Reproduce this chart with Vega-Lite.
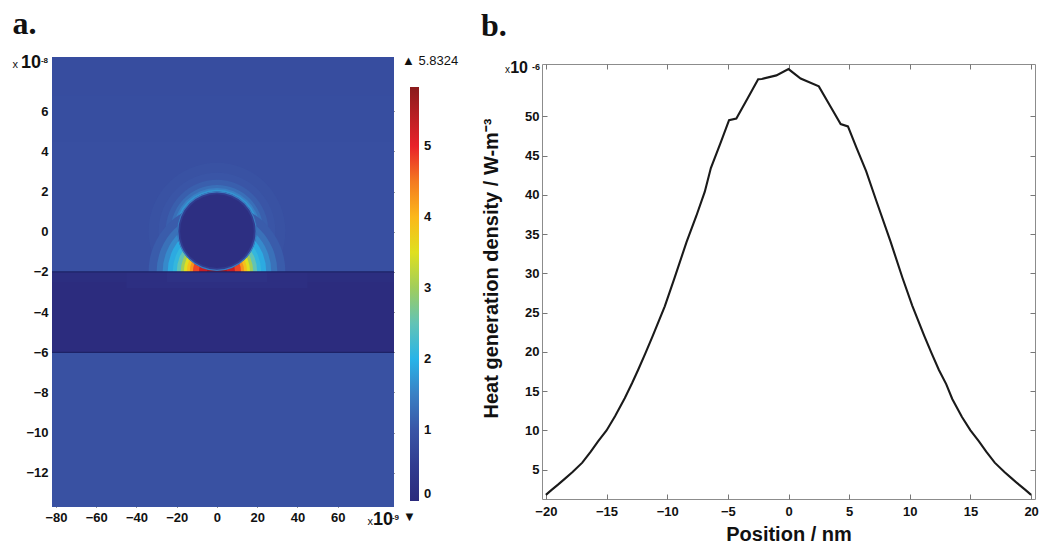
{
  "$schema": "https://vega.github.io/schema/vega-lite/v6.json",
  "background": "white",
  "padding": {"left": 12, "top": 8, "right": 0, "bottom": 0},
  "columns": 2,
  "align": "none",
  "spacing": 21,
  "resolve": {"scale": {"color": "independent"}},
  "config": {
    "font": "Liberation Sans",
    "axis": {"labelFont": "Liberation Sans", "titleFont": "Liberation Sans"},
    "legend": {"labelFont": "Liberation Sans"},
    "view": {"stroke": null}
  },
  "concat": [
    {
      "width": 342,
      "height": 443,
      "title": {"text": "a.", "anchor": "start", "font": "Liberation Serif", "fontSize": 32, "fontWeight": "bold", "color": "#111", "offset": 13},
      "view": {"stroke": null},
      "resolve": {"axis": {"x": "independent", "y": "independent"}},
      "layer": [
        {
          "data": {"values": [
            {"x": -82, "x2": 88, "y": -2, "y2": 8.7, "v": 0.88},
            {"x": -82, "x2": 88, "y": 4.5, "y2": 8.7, "v": 0.86},
            {"x": -82, "x2": 88, "y": 6.8, "y2": 8.7, "v": 0.83},
            {"x": -82, "x2": 88, "y": -13.7, "y2": -6, "v": 0.92}
          ]},
          "mark": {"type": "rect"},
          "encoding": {
            "x": {"field": "x", "type": "quantitative", "scale": {"domain": [-82, 88], "nice": false, "zero": false},
              "axis": {"values": [-80, -60, -40, -20, 0, 20, 40, 60], "title": null, "domain": false, "grid": false, "tickSize": -4, "tickColor": "#333", "labelFontSize": 13, "labelFontWeight": "bold", "labelColor": "#111", "labelPadding": 8}},
            "x2": {"field": "x2"},
            "y": {"field": "y", "type": "quantitative", "scale": {"domain": [-13.7, 8.7], "nice": false, "zero": false, "range": [443, -7]},
              "axis": {"values": [-12, -10, -8, -6, -4, -2, 0, 2, 4, 6], "title": null, "domain": false, "grid": false, "tickSize": -4, "tickColor": "#333", "labelFontSize": 13, "labelFontWeight": "bold", "labelColor": "#111", "labelPadding": 8}},
            "y2": {"field": "y2"},
            "color": {"field": "v", "type": "quantitative",
              "scale": {"type": "linear", "interpolate": "rgb",
                "domain": [0, 0.5, 1, 1.5, 2, 2.5, 3, 3.5, 4, 4.5, 5, 5.8324],
                "range": ["#2b2a7c", "#313c90", "#3a55a6", "#3a80c4", "#28b4e8", "#62c3b6", "#a0cd5c", "#dfe01f", "#fbb81a", "#f47a20", "#e9222a", "#8a1b1c"]},
              "legend": {"orient": "none", "legendX": 358, "legendY": 23, "direction": "vertical", "gradientLength": 414, "gradientThickness": 9, "gradientStrokeWidth": 0, "values": [0, 1, 2, 3, 4, 5], "title": null, "labelFontSize": 13, "labelFontWeight": "bold", "labelColor": "#111", "labelOverlap": false, "padding": 0, "labelOffset": 5}}
          }
        },
        {
          "data": {"values": [
            {"cx": 0, "cy": 0.03, "r1": 19.7, "r2": 34, "t1": 0, "t2": 360, "v": 0.93},
            {"cx": 0, "cy": 0.03, "r1": 19.7, "r2": 29, "t1": 0, "t2": 360, "v": 1.0},
            {"cx": 0, "cy": 0.03, "r1": 19.7, "r2": 25.5, "t1": 0, "t2": 360, "v": 1.12},
            {"cx": 0, "cy": 0.03, "r1": 19.7, "r2": 23, "t1": 0, "t2": 360, "v": 1.3},
            {"cx": 0, "cy": 0.03, "r1": 19.7, "r2": 21.5, "t1": 0, "t2": 360, "v": 1.5},
            {"cx": 0, "cy": 0.03, "r1": 19.7, "r2": 20.6, "t1": 0, "t2": 360, "v": 1.7},
            {"cx": 0, "cy": -2, "r1": 0, "r2": 34, "t1": -90, "t2": 90, "v": 1.08},
            {"cx": 0, "cy": -2, "r1": 0, "r2": 30, "t1": -90, "t2": 90, "v": 1.32},
            {"cx": 0, "cy": -2, "r1": 0, "r2": 27, "t1": -90, "t2": 90, "v": 1.6},
            {"cx": 0, "cy": -2, "r1": 0, "r2": 24.5, "t1": -90, "t2": 90, "v": 1.9},
            {"cx": 0, "cy": -2, "r1": 0, "r2": 22, "t1": -90, "t2": 90, "v": 2.1},
            {"cx": 0, "cy": -2, "r1": 0, "r2": 20, "t1": -90, "t2": 90, "v": 2.5},
            {"cx": 0, "cy": -2, "r1": 0, "r2": 18, "t1": -90, "t2": 90, "v": 3.0},
            {"cx": 0, "cy": -2, "r1": 0, "r2": 16.5, "t1": -90, "t2": 90, "v": 3.5},
            {"cx": 0, "cy": -2, "r1": 0, "r2": 15, "t1": -90, "t2": 90, "v": 3.9},
            {"cx": 0, "cy": -2, "r1": 0, "r2": 13.5, "t1": -90, "t2": 90, "v": 4.3},
            {"cx": 0, "cy": -2, "r1": 0, "r2": 12, "t1": -90, "t2": 90, "v": 4.8},
            {"cx": 0, "cy": -2, "r1": 0, "r2": 9, "t1": -90, "t2": 90, "v": 5.3},
            {"cx": 0, "cy": -2, "r1": 0, "r2": 5, "t1": -90, "t2": 90, "v": 5.6}
          ]},
          "mark": {"type": "arc"},
          "encoding": {
            "x": {"field": "cx", "type": "quantitative", "axis": null},
            "y": {"field": "cy", "type": "quantitative", "axis": null},
            "radius": {"field": "r1", "type": "quantitative", "scale": {"type": "linear", "domain": [0, 100], "range": [0, 201.2], "zero": true}},
            "radius2": {"field": "r2"},
            "theta": {"field": "t1", "type": "quantitative", "stack": null, "scale": {"domain": [0, 360], "range": [0, 6.283185307]}},
            "theta2": {"field": "t2"},
            "color": {"field": "v", "type": "quantitative"}
          }
        },
        {
          "data": {"values": [
            {"x": -82, "x2": 88, "y": -6, "y2": -2, "v": 0.05},
            {"x": -82, "x2": 88, "y": -2.5, "y2": -2, "v": 0.1},
            {"x": -45, "x2": 45, "y": -2.8, "y2": -2, "v": 0.15},
            {"x": -25, "x2": 25, "y": -2.5, "y2": -2, "v": 0.22}
          ]},
          "mark": {"type": "rect"},
          "encoding": {
            "x": {"field": "x", "type": "quantitative", "axis": null},
            "x2": {"field": "x2"},
            "y": {"field": "y", "type": "quantitative", "axis": null},
            "y2": {"field": "y2"},
            "color": {"field": "v", "type": "quantitative"}
          }
        },
        {
          "data": {"values": [
            {"cx": 0, "cy": 0.03, "r1": 0, "r2": 19.7, "t1": 0, "t2": 360, "v": 0.5},
            {"cx": 0, "cy": 0.03, "r1": 0, "r2": 18.3, "t1": 0, "t2": 360, "v": 0.15},
            {"cx": 0, "cy": 0.03, "r1": 19.2, "r2": 19.8, "t1": 0, "t2": 360, "v": 1.45}
          ]},
          "mark": {"type": "arc"},
          "encoding": {
            "x": {"field": "cx", "type": "quantitative", "axis": null},
            "y": {"field": "cy", "type": "quantitative", "axis": null},
            "radius": {"field": "r1", "type": "quantitative"},
            "radius2": {"field": "r2"},
            "theta": {"field": "t1", "type": "quantitative", "stack": null},
            "theta2": {"field": "t2"},
            "color": {"field": "v", "type": "quantitative"}
          }
        },
        {
          "data": {"values": [{"y": -2}, {"y": -6}]},
          "mark": {"type": "rule", "color": "#1d2266", "strokeWidth": 1.2},
          "encoding": {"y": {"field": "y", "type": "quantitative", "axis": null}}
        },
        {
          "data": {"values": [{"x": 0, "y": 0}]},
          "mark": {"type": "point", "opacity": 0},
          "encoding": {
            "x": {"field": "x", "type": "quantitative", "axis": {"orient": "top", "offset": 7, "values": [-80, -60, -40, -20, 0, 20, 40, 60, 80], "labels": false, "domain": false, "grid": false, "title": null, "tickSize": -4, "tickColor": "#333"}},
            "y": {"field": "y", "type": "quantitative", "axis": {"orient": "right", "values": [-12, -10, -8, -6, -4, -2, 0, 2, 4, 6], "labels": false, "domain": false, "grid": false, "title": null, "tickSize": -4, "tickColor": "#333"}}
          }
        },
        {
          "data": {"values": [{"x": -82, "y": 8.7, "t": "-8"}]},
          "mark": {"type": "text", "align": "right", "baseline": "alphabetic", "dx": -4, "dy": 6, "fontSize": 8, "fontWeight": "bold", "color": "#111"},
          "encoding": {"x": {"field": "x", "type": "quantitative", "axis": null}, "y": {"field": "y", "type": "quantitative", "axis": null}, "text": {"field": "t"}}
        },
        {
          "data": {"values": [{"x": -82, "y": 8.7, "t": "10"}]},
          "mark": {"type": "text", "align": "right", "baseline": "alphabetic", "dx": -11, "dy": 11, "fontSize": 18, "fontWeight": "bold", "color": "#111"},
          "encoding": {"x": {"field": "x", "type": "quantitative", "axis": null}, "y": {"field": "y", "type": "quantitative", "axis": null}, "text": {"field": "t"}}
        },
        {
          "data": {"values": [{"x": -82, "y": 8.7, "t": "x"}]},
          "mark": {"type": "text", "align": "right", "baseline": "alphabetic", "dx": -34, "dy": 11, "fontSize": 11, "color": "#111"},
          "encoding": {"x": {"field": "x", "type": "quantitative", "axis": null}, "y": {"field": "y", "type": "quantitative", "axis": null}, "text": {"field": "t"}}
        },
        {
          "data": {"values": [{"x": 88, "y": -13.7, "t": "-9"}]},
          "mark": {"type": "text", "align": "right", "baseline": "alphabetic", "dx": 5, "dy": 13, "fontSize": 8, "fontWeight": "bold", "color": "#111"},
          "encoding": {"x": {"field": "x", "type": "quantitative", "axis": null}, "y": {"field": "y", "type": "quantitative", "axis": null}, "text": {"field": "t"}}
        },
        {
          "data": {"values": [{"x": 88, "y": -13.7, "t": "10"}]},
          "mark": {"type": "text", "align": "right", "baseline": "alphabetic", "dx": -1, "dy": 18, "fontSize": 18, "fontWeight": "bold", "color": "#111"},
          "encoding": {"x": {"field": "x", "type": "quantitative", "axis": null}, "y": {"field": "y", "type": "quantitative", "axis": null}, "text": {"field": "t"}}
        },
        {
          "data": {"values": [{"x": 88, "y": -13.7, "t": "x"}]},
          "mark": {"type": "text", "align": "right", "baseline": "alphabetic", "dx": -21, "dy": 18, "fontSize": 11, "color": "#111"},
          "encoding": {"x": {"field": "x", "type": "quantitative", "axis": null}, "y": {"field": "y", "type": "quantitative", "axis": null}, "text": {"field": "t"}}
        },
        {
          "data": {"values": [{"x": 88, "y": -13.7, "t": "▼"}]},
          "mark": {"type": "text", "align": "left", "baseline": "alphabetic", "dx": 9, "dy": 14, "fontSize": 13, "color": "#111"},
          "encoding": {"x": {"field": "x", "type": "quantitative", "axis": null}, "y": {"field": "y", "type": "quantitative", "axis": null}, "text": {"field": "t"}}
        },
        {
          "data": {"values": [{"x": 88, "y": 8.7, "t": "▲ 5.8324"}]},
          "mark": {"type": "text", "align": "left", "baseline": "alphabetic", "dx": 8, "dy": 8, "fontSize": 13, "color": "#111"},
          "encoding": {"x": {"field": "x", "type": "quantitative", "axis": null}, "y": {"field": "y", "type": "quantitative", "axis": null}, "text": {"field": "t"}}
        }
      ]
    },
    {
      "width": 493,
      "height": 435,
      "title": {"text": "b.", "anchor": "start", "font": "Liberation Serif", "fontSize": 32, "fontWeight": "bold", "color": "#111", "offset": 17},
      "view": {"stroke": "#8c8c8c", "strokeWidth": 1},
      "resolve": {"axis": {"x": "independent", "y": "independent"}},
      "layer": [
        {
          "data": {"values": [
            {"pos": -20.0, "q": 1.8}, {"pos": -19.55, "q": 2.4}, {"pos": -19.0, "q": 3.1}, {"pos": -18.4, "q": 3.9},
            {"pos": -17.8, "q": 4.7}, {"pos": -17.0, "q": 5.9}, {"pos": -16.3, "q": 7.3}, {"pos": -15.7, "q": 8.6},
            {"pos": -15.0, "q": 10.0}, {"pos": -14.3, "q": 11.8}, {"pos": -13.5, "q": 14.1}, {"pos": -12.9, "q": 16.0},
            {"pos": -12.4, "q": 17.7}, {"pos": -11.8, "q": 19.8}, {"pos": -11.2, "q": 22.0}, {"pos": -10.2, "q": 25.8},
            {"pos": -9.4, "q": 29.4}, {"pos": -8.4, "q": 34.0}, {"pos": -7.6, "q": 37.3}, {"pos": -6.9, "q": 40.4},
            {"pos": -6.4, "q": 43.4}, {"pos": -5.6, "q": 46.6}, {"pos": -4.9, "q": 49.5}, {"pos": -4.3, "q": 49.7},
            {"pos": -3.4, "q": 52.2}, {"pos": -2.5, "q": 54.7}, {"pos": -2.2, "q": 54.75}, {"pos": -1.0, "q": 55.2},
            {"pos": 0.0, "q": 56.0}, {"pos": 1.0, "q": 54.8}, {"pos": 2.5, "q": 53.8}, {"pos": 3.4, "q": 51.4},
            {"pos": 4.3, "q": 49.0}, {"pos": 4.9, "q": 48.7}, {"pos": 5.6, "q": 46.0}, {"pos": 6.4, "q": 43.0},
            {"pos": 7.2, "q": 39.4}, {"pos": 8.4, "q": 34.1}, {"pos": 9.4, "q": 29.4}, {"pos": 10.2, "q": 25.9},
            {"pos": 11.2, "q": 22.0}, {"pos": 11.8, "q": 19.8}, {"pos": 12.4, "q": 17.7}, {"pos": 13.0, "q": 15.9},
            {"pos": 13.5, "q": 14.0}, {"pos": 14.3, "q": 11.7}, {"pos": 15.0, "q": 10.0}, {"pos": 15.7, "q": 8.6},
            {"pos": 16.3, "q": 7.3}, {"pos": 17.0, "q": 5.9}, {"pos": 17.8, "q": 4.7}, {"pos": 18.4, "q": 3.9},
            {"pos": 19.0, "q": 3.1}, {"pos": 19.55, "q": 2.4}, {"pos": 20.0, "q": 1.8}
          ]},
          "mark": {"type": "line", "color": "#1a1a1a", "strokeWidth": 2.1},
          "encoding": {
            "x": {"field": "pos", "type": "quantitative", "scale": {"domain": [-20.32, 20.32], "nice": false, "zero": false},
              "axis": {"values": [-20, -15, -10, -5, 0, 5, 10, 15, 20], "title": "Position / nm", "titleFontSize": 20, "titleFontWeight": "bold", "titleColor": "#111", "titlePadding": 6, "domain": false, "grid": false, "tickSize": -5, "tickColor": "#777", "labelFontSize": 13, "labelFontWeight": "bold", "labelColor": "#111", "labelPadding": 11}},
            "y": {"field": "q", "type": "quantitative", "scale": {"domain": [1.27, 56.65], "nice": false, "zero": false},
              "axis": {"values": [5, 10, 15, 20, 25, 30, 35, 40, 45, 50], "title": "Heat generation density / W-m⁻³", "titleFontSize": 20, "titleFontWeight": "bold", "titleColor": "#111", "titleX": -41, "titleY": 204, "titleBaseline": "bottom", "domain": false, "grid": false, "tickSize": -5, "tickColor": "#777", "labelFontSize": 13, "labelFontWeight": "bold", "labelColor": "#111", "labelPadding": 8}}
          }
        },
        {
          "data": {"values": [{"pos": 0, "q": 10}]},
          "mark": {"type": "point", "opacity": 0},
          "encoding": {
            "x": {"field": "pos", "type": "quantitative", "axis": {"orient": "top", "values": [-20, -15, -10, -5, 0, 5, 10, 15, 20], "labels": false, "domain": false, "grid": false, "title": null, "tickSize": -5, "tickColor": "#777"}},
            "y": {"field": "q", "type": "quantitative", "axis": {"orient": "right", "values": [5, 10, 15, 20, 25, 30, 35, 40, 45, 50], "labels": false, "domain": false, "grid": false, "title": null, "tickSize": -5, "tickColor": "#777"}}
          }
        },
        {
          "data": {"values": [{"pos": -20.32, "q": 56.65, "t": "-6"}]},
          "mark": {"type": "text", "align": "right", "baseline": "alphabetic", "dx": -2, "dy": 6, "fontSize": 9, "fontWeight": "bold", "color": "#111"},
          "encoding": {"x": {"field": "pos", "type": "quantitative", "axis": null}, "y": {"field": "q", "type": "quantitative", "axis": null}, "text": {"field": "t"}}
        },
        {
          "data": {"values": [{"pos": -20.32, "q": 56.65, "t": "10"}]},
          "mark": {"type": "text", "align": "right", "baseline": "alphabetic", "dx": -14, "dy": 9, "fontSize": 16, "fontWeight": "bold", "color": "#111"},
          "encoding": {"x": {"field": "pos", "type": "quantitative", "axis": null}, "y": {"field": "q", "type": "quantitative", "axis": null}, "text": {"field": "t"}}
        },
        {
          "data": {"values": [{"pos": -20.32, "q": 56.65, "t": "x"}]},
          "mark": {"type": "text", "align": "right", "baseline": "alphabetic", "dx": -32, "dy": 9, "fontSize": 10, "color": "#111"},
          "encoding": {"x": {"field": "pos", "type": "quantitative", "axis": null}, "y": {"field": "q", "type": "quantitative", "axis": null}, "text": {"field": "t"}}
        }
      ]
    }
  ]
}
